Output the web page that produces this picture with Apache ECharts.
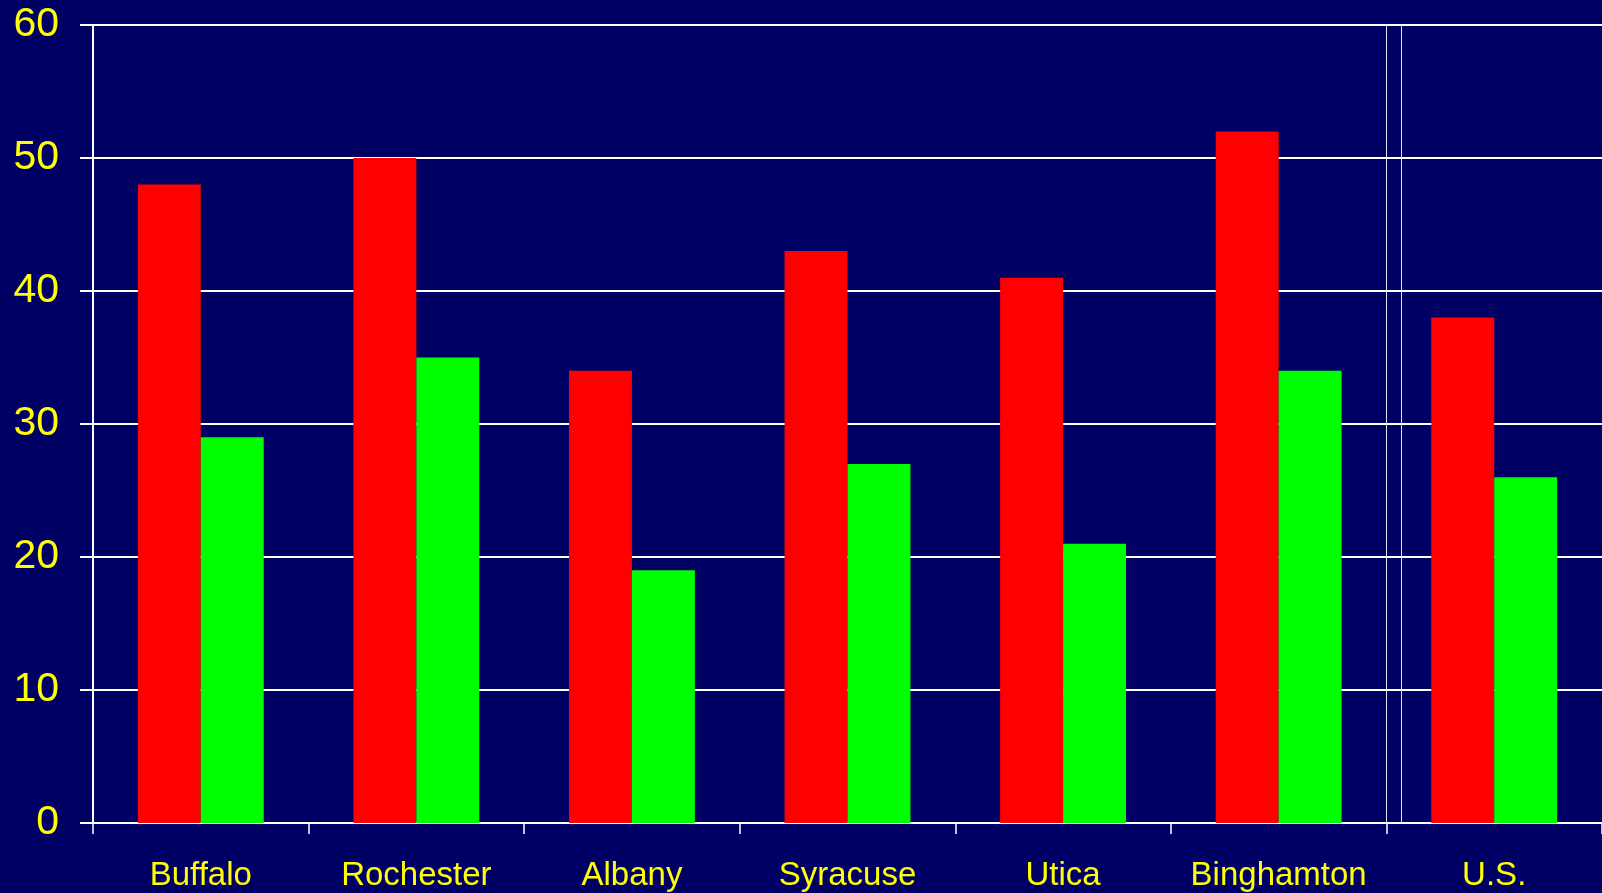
<!DOCTYPE html>
<html>
<head>
<meta charset="utf-8">
<script src="https://cdn.jsdelivr.net/npm/echarts@6/dist/echarts.min.js"></script>
<style>
html,body{margin:0;padding:0;background:#000064;}
#chart{width:1602px;height:893px;}
</style>
</head>
<body>
<div id="chart"></div>
<script>
const categories = ['Buffalo', 'Rochester', 'Albany', 'Syracuse', 'Utica', 'Binghamton', 'U.S.'];
const redValues = [48, 50, 34, 43, 41, 52, 38];
const greenValues = [29, 35, 19, 27, 21, 34, 26];
const yTicks = { min: 0, max: 60, interval: 10 };
const separatorPositions = [6, 6.07];

const chart = echarts.init(document.getElementById('chart'), null, { renderer: 'canvas' });
const font = 'Liberation Sans, Arial, sans-serif';
chart.setOption({
  animation: false,
  backgroundColor: '#000064',
  grid: { left: 93, right: -2, top: 25, bottom: 70, containLabel: false },
  xAxis: [{
    type: 'category',
    data: categories,
    axisLine: { lineStyle: { color: '#ffffff', width: 2 } },
    axisTick: { show: true, interval: 0, length: 11, lineStyle: { color: '#ffffff', width: 1.5 } },
    axisLabel: { interval: 0, color: '#ffff00', fontSize: 33, fontFamily: font, margin: 36 },
    splitLine: { show: false }
  }, {
    type: 'value', min: 0, max: 7, show: false
  }],
  yAxis: {
    type: 'value',
    min: yTicks.min, max: yTicks.max, interval: yTicks.interval,
    axisLine: { show: true, lineStyle: { color: '#ffffff', width: 2 } },
    axisTick: { show: true, length: 13, lineStyle: { color: '#ffffff', width: 2 } },
    axisLabel: { color: '#ffff00', fontSize: 41, fontFamily: font, margin: 34 },
    splitLine: { show: true, lineStyle: { color: '#ffffff', width: 2 } }
  },
  series: [{
    type: 'bar', data: redValues,
    itemStyle: { color: '#ff0000' },
    barGap: '0%', barCategoryGap: '41.6%'
  }, {
    type: 'bar', data: greenValues,
    itemStyle: { color: '#00ff00' },
    barGap: '0%', barCategoryGap: '41.6%'
  }, {
    type: 'line', xAxisIndex: 1, data: [],
    markLine: {
      silent: true, symbol: 'none', label: { show: false },
      lineStyle: { color: '#e0e0f0', width: 1, type: 'solid' },
      data: separatorPositions.map(v => ({ xAxis: v }))
    }
  }]
});
</script>
</body>
</html>
